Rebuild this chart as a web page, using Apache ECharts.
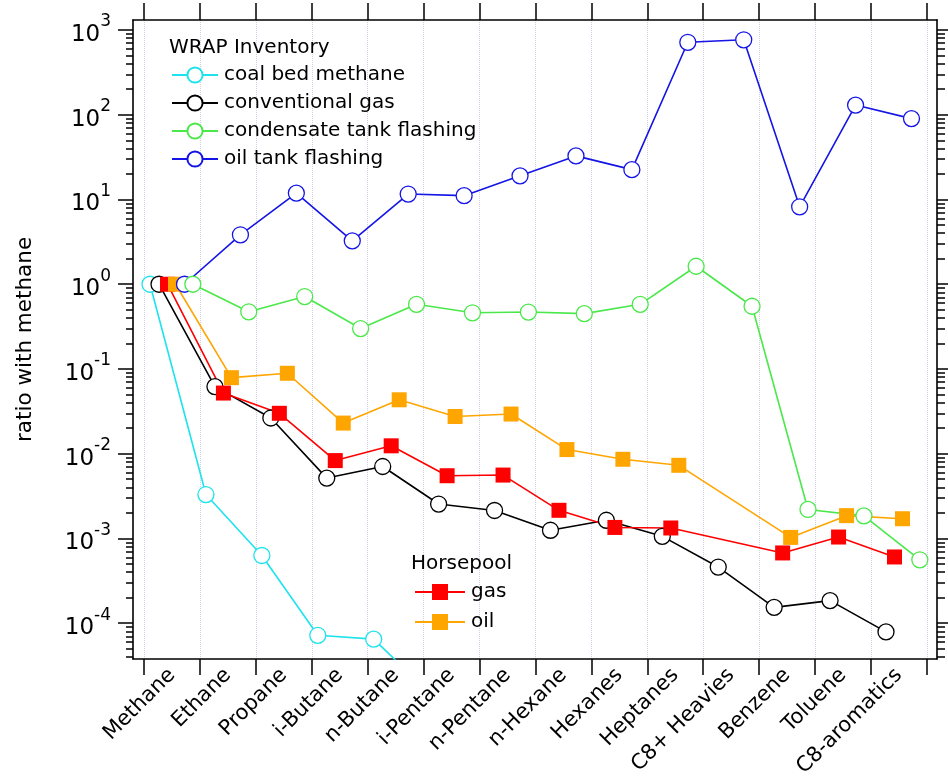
<!DOCTYPE html>
<html><head><meta charset="utf-8">
<script src="https://cdn.jsdelivr.net/npm/echarts@6/dist/echarts.min.js"></script>
<style>html,body{margin:0;padding:0;background:#fff}#c{width:948px;height:780px}</style>
</head><body><div id="c"></div>
<script>
// ---- data ----
const categories = ['Methane','Ethane','Propane','i-Butane','n-Butane','i-Pentane','n-Pentane','n-Hexane','Hexanes','Heptanes','C8+ Heavies','Benzene','Toluene','C8-aromatics'];
const coalBedMethane   = [1, 3.3e-3, 6.3e-4, 7.2e-5, 6.5e-5, 1.5e-5, null, null, null, null, null, null, null, null];
const conventionalGas  = [1, 0.062, 0.0264, 0.00516, 0.00707, 0.00255, 0.00214, 0.00125, 0.00164, 0.00106, 4.6e-4, 1.54e-4, 1.85e-4, 7.9e-5];
const condensateTank   = [1, 0.473, 0.716, 0.30, 0.58, 0.46, 0.47, 0.45, 0.58, 1.63, 0.55, 2.2e-3, 1.85e-3, 5.6e-4];
const oilTank          = [1, 3.83, 11.9, 3.25, 11.6, 11.1, 19, 32.7, 22.5, 716, 766, 8.2, 130, 90];
const horsepoolGas     = [1, 0.052, 0.030, 0.0083, 0.0124, 0.0055, 0.0056, 0.00215, 0.00135, 0.00133, null, 6.75e-4, 1.04e-3, 6.05e-4];
const horsepoolOil     = [1, 0.079, 0.089, 0.023, 0.0433, 0.0275, 0.0294, 0.0112, 0.0086, 0.0073, null, 1.03e-3, 1.86e-3, 1.71e-3];
const yTickExponents   = [-4, -3, -2, -1, 0, 1, 2, 3];

// ---- layout constants ----
const Y_MIN = Math.pow(10, -4.421), Y_MAX = Math.pow(10, 3.118);
const X_MIN = -0.197, X_MAX = 14.18;
const LABEL_SHIFT = 0.5;
const FONT = 'DejaVu Sans';

const yMajor = yTickExponents.map(e => Number('1e' + e));
const yMinor = [];
for (let e = -5; e <= 3; e++) for (let k = 2; k <= 9; k++) {
  const v = Number(k + 'e' + e);
  if (v >= Y_MIN && v <= Y_MAX) yMinor.push(v);
}
const xTicks = categories.map((_, i) => i).concat([categories.length]);
const xLabelPos = categories.map((_, i) => i + LABEL_SHIFT);

function pts(vals, off) {
  const out = [];
  vals.forEach((v, i) => { if (v != null) out.push([i + off, v]); });
  return out;
}
function circleSeries(name, vals, color, off) {
  return { name, type: 'line', data: pts(vals, off), symbol: 'circle', symbolSize: 16,
    lineStyle: { color, width: 1.6 }, itemStyle: { color: '#fff', borderColor: color, borderWidth: 1.3 },
    emphasis: { disabled: true }, clip: true };
}
function squareSeries(name, vals, color, off) {
  return { name, type: 'line', data: pts(vals, off), symbol: 'rect', symbolSize: 15,
    lineStyle: { color, width: 1.6 }, itemStyle: { color: color, borderWidth: 0 },
    emphasis: { disabled: true }, clip: true };
}

const C = { cyan: '#1fe3ec', black: '#000000', green: '#4ae84a', blue: '#1414e6', red: '#ff0000', orange: '#ffa500' };

function yAxisBase(extra) {
  return Object.assign({ type: 'log', logBase: 10, min: Y_MIN, max: Y_MAX, splitLine: { show: false },
    axisLabel: { show: false }, axisLine: { show: false, onZero: false } }, extra);
}

const option = {
  animation: false,
  backgroundColor: '#fff',
  textStyle: { fontFamily: FONT },
  grid: { left: 133, top: 20, right: 11, bottom: 121, containLabel: false },
  title: [
    { text: 'WRAP Inventory', left: 164, top: 33, textStyle: { fontFamily: FONT, fontSize: 20, fontWeight: 'normal', color: '#000' } },
    { text: 'Horsepool', left: 406, top: 549, textStyle: { fontFamily: FONT, fontSize: 20, fontWeight: 'normal', color: '#000' } }
  ],
  legend: [
    { data: ['coal bed methane', 'conventional gas', 'condensate tank flashing', 'oil tank flashing'],
      orient: 'vertical', left: 166, top: 60, itemWidth: 46, itemHeight: 19, itemGap: 8, selectedMode: false,
      textStyle: { fontFamily: FONT, fontSize: 20, color: '#000', padding: [0, 0, 0, 1] } },
    { data: ['gas', 'oil'],
      orient: 'vertical', left: 409, top: 577, itemWidth: 50, itemHeight: 20, itemGap: 10, selectedMode: false,
      textStyle: { fontFamily: FONT, fontSize: 20, color: '#000', padding: [0, 0, 0, 1] } }
  ],
  xAxis: [
    { type: 'value', min: X_MIN, max: X_MAX, position: 'bottom',
      axisLine: { show: true, onZero: false, lineStyle: { color: '#000', width: 1.6 } },
      axisTick: { show: true, inside: false, length: 16, customValues: xTicks, lineStyle: { color: '#000', width: 1.5 } },
      axisLabel: { show: true, customValues: xLabelPos, rotate: 45, margin: 13, color: '#000', fontFamily: FONT, fontSize: 21,
        formatter: v => categories[Math.round(v - LABEL_SHIFT)] || '' },
      splitLine: { show: true, lineStyle: { color: '#cfcfe8', width: 1, type: 'dotted' } } },
    { type: 'value', min: X_MIN, max: X_MAX, position: 'top',
      axisLine: { show: true, onZero: false, lineStyle: { color: '#000', width: 1.6 } },
      axisTick: { show: true, inside: false, length: 17, customValues: xTicks, lineStyle: { color: '#000', width: 1.5 } },
      axisLabel: { show: false }, splitLine: { show: false } }
  ],
  yAxis: [
    yAxisBase({ position: 'left',
      axisLine: { show: true, onZero: false, lineStyle: { color: '#000', width: 1.6 } },
      axisTick: { show: true, inside: false, length: 15, customValues: yMajor, lineStyle: { color: '#000', width: 1.5 } },
      axisLabel: { show: true, customValues: yMajor, margin: 22, color: '#000', fontFamily: FONT, fontSize: 23,
        formatter: v => '{b|10}{s|' + Math.round(Math.log10(v)) + '}',
        rich: { b: { fontFamily: FONT, fontSize: 23, color: '#000', padding: [10, 0, 0, 0] },
                s: { fontFamily: FONT, fontSize: 17, color: '#000', verticalAlign: 'top', lineHeight: 17 } } },
      name: 'ratio with methane', nameLocation: 'middle', nameGap: 97,
      nameTextStyle: { fontFamily: FONT, fontSize: 21.5, color: '#000' } }),
    yAxisBase({ position: 'left',
      axisTick: { show: true, inside: false, length: 7, customValues: yMinor, lineStyle: { color: '#000', width: 1.5 } } }),
    yAxisBase({ position: 'right',
      axisLine: { show: true, onZero: false, lineStyle: { color: '#000', width: 1.6 } },
      axisTick: { show: true, inside: false, length: 15, customValues: yMajor, lineStyle: { color: '#000', width: 1.5 } } }),
    yAxisBase({ position: 'right',
      axisTick: { show: true, inside: false, length: 8, customValues: yMinor, lineStyle: { color: '#000', width: 1.5 } } })
  ],
  series: [
    circleSeries('coal bed methane', coalBedMethane, C.cyan, 0.107),
    circleSeries('conventional gas', conventionalGas, C.black, 0.268),
    squareSeries('gas', horsepoolGas, C.red, 0.42),
    squareSeries('oil', horsepoolOil, C.orange, 0.563),
    circleSeries('oil tank flashing', oilTank, C.blue, 0.724),
    circleSeries('condensate tank flashing', condensateTank, C.green, 0.873)
  ]
};

const chart = echarts.init(document.getElementById('c'), null, { renderer: 'canvas' });
chart.setOption(option);
</script>
</body></html>
